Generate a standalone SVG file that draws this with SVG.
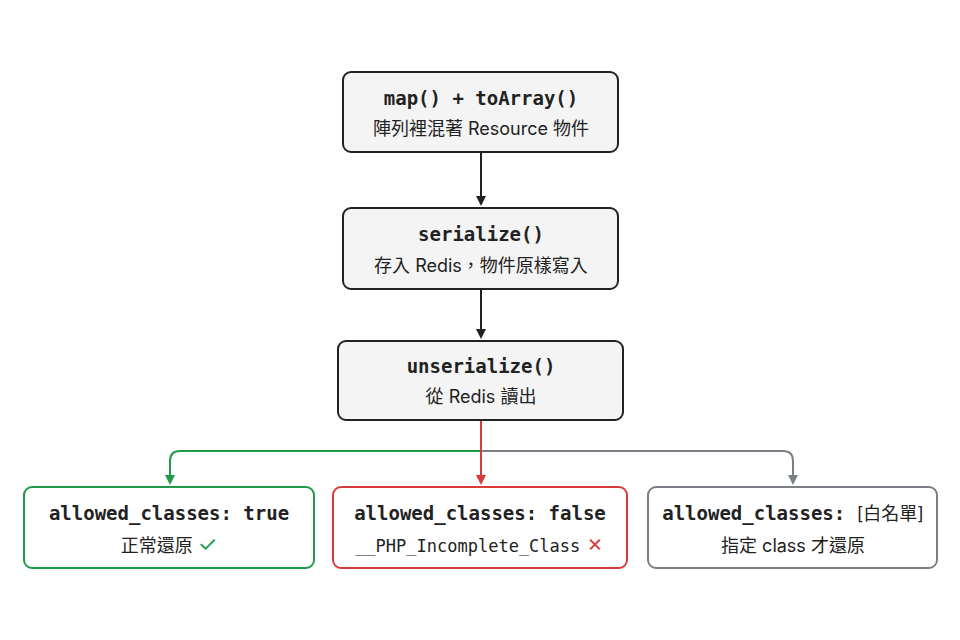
<svg xmlns="http://www.w3.org/2000/svg" width="960" height="640" viewBox="0 0 960 640">
<defs>
<style>
.box{fill:#f4f4f4;stroke:#222;stroke-width:2}
.t1{font-family:"DejaVu Sans Mono","Liberation Mono",monospace;font-weight:bold;font-size:19px;fill:#222;text-anchor:middle}
.t2{font-family:"Inter","Noto Sans CJK TC",sans-serif;font-size:18px;fill:#222;text-anchor:middle}
.m{font-family:"DejaVu Sans Mono","Liberation Mono",monospace;font-size:17px}
.ln{fill:none;stroke-width:2}
</style>
<marker id="ak" markerWidth="10" markerHeight="10" refX="5" refY="8" markerUnits="userSpaceOnUse" viewBox="0 0 10 10"><path d="M0,0 L10,0 L5,10 Z" fill="#222"/></marker>
<marker id="ag" markerWidth="10" markerHeight="10" refX="5" refY="8" markerUnits="userSpaceOnUse" viewBox="0 0 10 10"><path d="M0,0 L10,0 L5,10 Z" fill="#1f9a4a"/></marker>
<marker id="ar" markerWidth="10" markerHeight="10" refX="5" refY="8" markerUnits="userSpaceOnUse" viewBox="0 0 10 10"><path d="M0,0 L10,0 L5,10 Z" fill="#d93b3b"/></marker>
<marker id="ay" markerWidth="10" markerHeight="10" refX="5" refY="8" markerUnits="userSpaceOnUse" viewBox="0 0 10 10"><path d="M0,0 L10,0 L5,10 Z" fill="#7b8087"/></marker>
</defs>
<rect width="960" height="640" fill="#fff"/>
<g id="connectors">
<path class="ln" stroke="#222" d="M481,153 V204" marker-end="url(#ak)"/>
<path class="ln" stroke="#222" d="M481,290 V337" marker-end="url(#ak)"/>
<path class="ln" stroke="#7b8087" d="M481,451 H783 Q793,451 793,461 V483" marker-end="url(#ay)"/>
<path class="ln" stroke="#1f9a4a" d="M481,451 H180 Q170,451 170,461 V483" marker-end="url(#ag)"/>
<path class="ln" stroke="#d93b3b" d="M481,421 V483" marker-end="url(#ar)"/>
</g>
<g id="n1"><rect class="box" x="343" y="72" width="275" height="80" rx="8"/>
<text class="t1" x="481" y="105">map() + toArray()</text>
<text class="t2" x="481" y="135">陣列裡混著 Resource 物件</text></g>
<g id="n2"><rect class="box" x="343" y="208" width="275" height="81" rx="8"/>
<text class="t1" x="481" y="241">serialize()</text>
<text class="t2" x="481" y="272">存入 Redis，物件原樣寫入</text></g>
<g id="n3"><rect class="box" x="338" y="341" width="285" height="79" rx="8"/>
<text class="t1" x="481" y="373">unserialize()</text>
<text class="t2" x="481" y="403">從 Redis 讀出</text></g>
<g id="n4"><rect x="24" y="487" width="290" height="81" rx="8" fill="#fff" stroke="#1f9a4a" stroke-width="2"/>
<text class="t1" x="169" y="520">allowed_classes: true</text>
<text class="t2" x="169" y="552">正常還原 <tspan fill="#1f9a4a" font-size="22">✓</tspan></text></g>
<g id="n5"><rect x="333" y="487" width="294" height="81" rx="8" fill="#fff" stroke="#d93b3b" stroke-width="2"/>
<text class="t1" x="480" y="520">allowed_classes: false</text>
<text class="t2" x="480" y="552"><tspan class="m">__PHP_Incomplete_Class</tspan> <tspan fill="#d93b3b" font-size="22">✗</tspan></text></g>
<g id="n6"><rect x="648" y="487" width="289" height="81" rx="8" fill="#fff" stroke="#7b8087" stroke-width="2"/>
<text class="t1" x="793" y="520">allowed_classes: <tspan font-family="Inter,'Noto Sans CJK TC',sans-serif" font-weight="normal" font-size="18">[白名單]</tspan></text>
<text class="t2" x="793" y="552">指定 class 才還原</text></g>
</svg>
